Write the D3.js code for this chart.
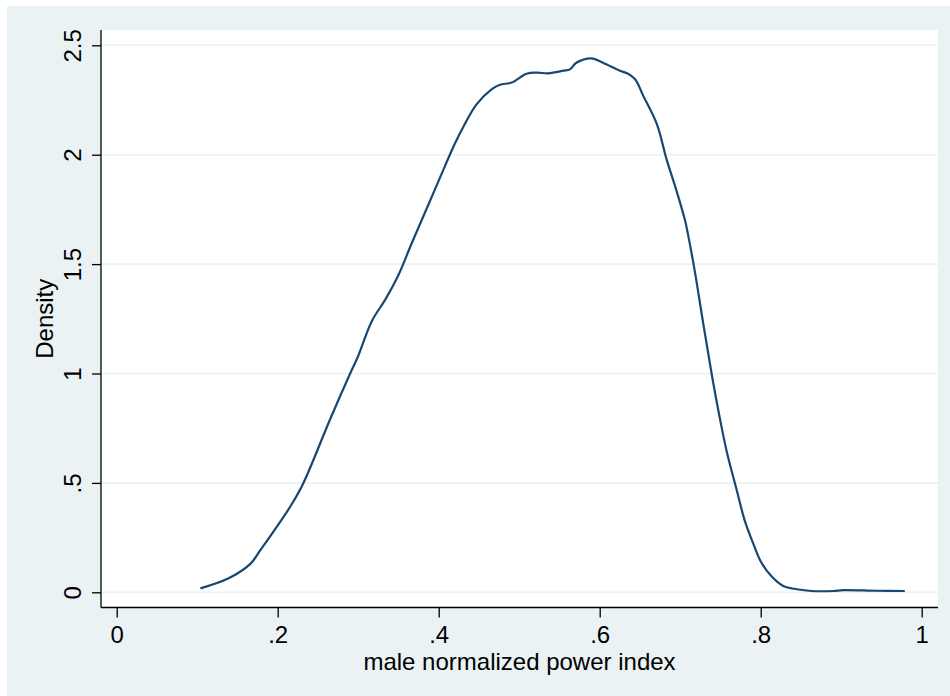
<!DOCTYPE html>
<html><head><meta charset="utf-8">
<script src="https://cdn.jsdelivr.net/npm/d3@7/dist/d3.min.js"></script>
<style>body{margin:0;background:#fff;}svg{display:block;font-family:Arial,"Liberation Sans",sans-serif;}</style>
</head><body><svg id="c" width="950" height="696"></svg>
<script>
const xVals = [0.104,0.139,0.166,0.178,0.199,0.217,0.232,0.265,0.29,0.300,0.317,0.334,0.350,0.367,0.387,0.408,0.420,0.431,0.447,0.466,0.476,0.491,0.509,0.522,0.536,0.555,0.563,0.571,0.590,0.604,0.625,0.634,0.644,0.654,0.671,0.683,0.695,0.706,0.710,0.718,0.729,0.739,0.749,0.758,0.770,0.780,0.791,0.801,0.814,0.828,0.845,0.863,0.890,0.903,0.944,0.979];
const density = [0.018,0.064,0.13,0.19,0.30,0.40,0.50,0.79,1.00,1.08,1.24,1.34,1.45,1.60,1.77,1.95,2.05,2.13,2.23,2.30,2.32,2.33,2.37,2.375,2.372,2.384,2.39,2.42,2.44,2.42,2.384,2.372,2.345,2.27,2.14,1.98,1.84,1.70,1.63,1.47,1.22,1.00,0.80,0.64,0.47,0.33,0.22,0.135,0.071,0.029,0.014,0.006,0.006,0.01,0.007,0.006];
const xTicks = [0,0.2,0.4,0.6,0.8,1];
const xTickLabels = ["0",".2",".4",".6",".8","1"];
const yTicks = [0,0.5,1,1.5,2,2.5];
const yTickLabels = ["0",".5","1","1.5","2","2.5"];
const xTitle = "male normalized power index";
const yTitle = "Density";

const FS = 24;
const svg = d3.select("#c");
const bg = "#eaf2f3";
svg.append("rect").attr("x",7).attr("y",6).attr("width",943).attr("height",690).attr("fill",bg);
const L=101, R=938, T=30, B=607.5;
svg.append("rect").attr("x",L).attr("y",T).attr("width",R-L).attr("height",B-T).attr("fill","#fff");

const x = d3.scaleLinear().domain([0,1]).range([116.7,921.7]);
const y = d3.scaleLinear().domain([0,2.5]).range([592.3,45.3]);

// gridlines
svg.append("g").selectAll("line").data(yTicks).join("line")
  .attr("x1",L).attr("x2",R).attr("y1",d=>y(d)).attr("y2",d=>y(d))
  .attr("stroke",bg).attr("stroke-width",1.6);

// curve
const pts = xVals.map((v,i)=>[v,density[i]]);
svg.append("path").datum(pts)
  .attr("d", d3.line().x(d=>x(d[0])).y(d=>y(d[1])).curve(d3.curveCatmullRom.alpha(0.5)))
  .attr("fill","none").attr("stroke","#1a476f").attr("stroke-width",2.2).attr("stroke-linejoin","round");

// x axis
const xAxis = d3.axisBottom(x).tickValues(xTicks).tickFormat((d,i)=>xTickLabels[i]).tickSizeOuter(0).tickSize(10);
const gx = svg.append("g").attr("transform",`translate(0,${B})`).call(xAxis);
gx.select(".domain").remove();
gx.append("line").attr("x1",L).attr("x2",R).attr("stroke","#000").attr("stroke-width",1.3);
gx.selectAll(".tick line").attr("stroke","#000").attr("stroke-width",1.3);
gx.selectAll(".tick text").attr("y",35.5).attr("dy",null)
  .attr("font-size",FS).attr("fill","#000").attr("font-family","Arial, 'Liberation Sans', sans-serif");

// y axis
const yAxis = d3.axisLeft(y).tickValues(yTicks).tickFormat((d,i)=>yTickLabels[i]).tickSizeOuter(0).tickSize(9).tickPadding(0);
const gy = svg.append("g").attr("transform",`translate(${L},0)`).call(yAxis);
gy.select(".domain").remove();
gy.append("line").attr("y1",T).attr("y2",B).attr("stroke","#000").attr("stroke-width",1.3);
gy.selectAll(".tick line").attr("stroke","#000").attr("stroke-width",1.3);
gy.selectAll(".tick text")
  .attr("x",null).attr("dy",null)
  .attr("text-anchor","middle")
  .attr("transform","translate(-20,0) rotate(-90)")
  .attr("font-size",FS).attr("fill","#000").attr("font-family","Arial, 'Liberation Sans', sans-serif");

// titles
svg.append("text").attr("x",(L+R)/2).attr("y",670).attr("text-anchor","middle")
  .attr("font-size",FS).attr("fill","#000").text(xTitle);
svg.append("text").attr("transform",`translate(53,${(T+B)/2}) rotate(-90)`).attr("text-anchor","middle")
  .attr("font-size",FS).attr("fill","#000").text(yTitle);
</script></body></html>
